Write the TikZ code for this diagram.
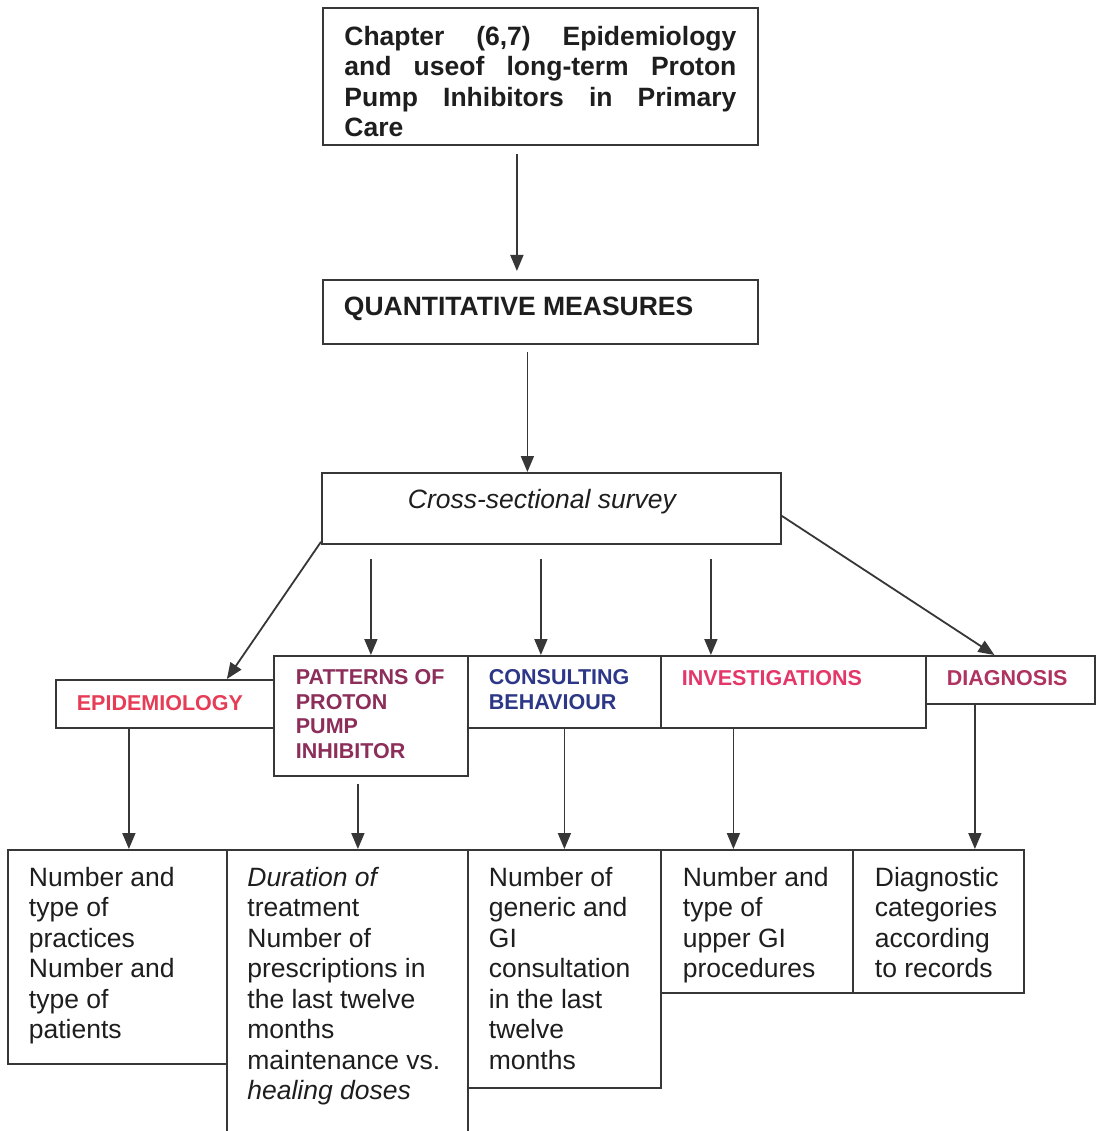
\documentclass[tikz,border=0pt]{standalone}
\usepackage{fontspec}
\setmainfont{Liberation Sans}
\usetikzlibrary{arrows.meta,positioning,calc}

\definecolor{linegray}{RGB}{55,55,55}
\definecolor{inkblack}{RGB}{30,30,30}
\definecolor{epired}{RGB}{230,60,85}
\definecolor{patplum}{RGB}{140,45,90}
\definecolor{consblue}{RGB}{45,55,135}
\definecolor{invpink}{RGB}{228,55,105}
\definecolor{diagrose}{RGB}{175,50,95}

% box content: width, height, left pad, top pad, text
\newcommand{\cellbox}[5]{\hspace*{#3pt}\parbox[t][#2pt][t]{\dimexpr#1pt-#3pt\relax}{\raggedright\vspace*{#4pt}#5}}

\begin{document}
\begin{tikzpicture}[
    x=1pt, y=-1pt,
    cell/.style={draw=linegray, line width=1.8pt, anchor=north west, inner sep=0pt, text=inkblack, font=\fontsize{26.5}{30.5}\selectfont},
    title/.style={cell, font=\fontsize{26.5}{30.5}\selectfont\bfseries},
    head/.style={cell, font=\fontsize{21.5}{24.5}\selectfont\bfseries},
    arr/.style={-{Triangle[width=13pt,length=16pt]}, draw=linegray, line width=1.8pt}
]
    \useasboundingbox (0,0) rectangle (1095,1131);
    \fill[white] (0,0) rectangle (1095,1131);

    % Top of the chain
    \node[title] (chap) at (322,7) {\cellbox{435}{137}{21.5}{18}{%
        \makebox[392pt][s]{Chapter (6,7) Epidemiology}\\
        \makebox[392pt][s]{and useof long-term Proton}\\
        \makebox[392pt][s]{Pump Inhibitors in Primary}\\
        Care}};
    \node[title] (quant) at (322,279) {\cellbox{435}{64}{21}{17}{QUANTITATIVE MEASURES}};
    \node[cell] (survey) at (321,472) {\cellbox{459}{71}{86}{16}{\itshape Cross-sectional survey}};

    % Second row: themes
    \node[head, text=epired] (epi) at (55,679) {\cellbox{218}{48}{21}{16}{EPIDEMIOLOGY}};
    \node[head, text=patplum] (pat) at (273,655) {\cellbox{194}{120}{22}{14}{PATTERNS OF\\ PROTON\\ PUMP\\ INHIBITOR}};
    \node[head, text=consblue] (cons) at (467,655) {\cellbox{193}{72}{21}{14}{CONSULTING\\ BEHAVIOUR}};
    \node[head, text=invpink] (inv) at (660,655) {\cellbox{265}{72}{21}{15}{INVESTIGATIONS}};
    \node[head, text=diagrose] (diag) at (925,655) {\cellbox{169}{48}{21}{15}{DIAGNOSIS}};

    % Bottom row: measures
    \node[cell] (practices) at (7,849) {\cellbox{219}{214}{21}{17}{Number and\\ type of\\ practices\\ Number and\\ type of\\ patients}};
    \node[cell] (duration) at (226,849) {\cellbox{241}{290}{20.5}{17}{{\itshape Duration of}\\ treatment\\ Number of\\ prescriptions in\\ the last twelve\\ months\\ maintenance vs.\\ {\itshape healing doses}}};
    \node[cell] (consult) at (467,849) {\cellbox{193}{238}{21}{17}{Number of\\ generic and\\ GI\\ consultation\\ in the last\\ twelve\\ months}};
    \node[cell] (procs) at (660,849) {\cellbox{192}{143}{22}{17}{Number and\\ type of\\ upper GI\\ procedures}};
    \node[cell] (records) at (852,849) {\cellbox{171}{143}{22}{17}{Diagnostic\\ categories\\ according\\ to records}};

    % Arrows down the chain
    \draw[arr, shorten <=8pt, shorten >=8pt] ([xshift=-23.5]chap.south) -- ([xshift=-23.5]quant.north);
    \draw[arr, shorten <=7pt] ([xshift=-13]quant.south) -- ([xshift=-24]survey.north);

    % Survey to themes
    \draw[arr] ([yshift=3]survey.south west) -- ([xshift=62]epi.north);
    \draw[arr, shorten <=14pt] (survey.south -| pat.north) -- (pat.north);
    \draw[arr, shorten <=14pt] ([xshift=-23.5]cons.north |- survey.south) -- ([xshift=-23.5]cons.north);
    \draw[arr, shorten <=14pt] ([xshift=-82.5]inv.north |- survey.south) -- ([xshift=-82.5]inv.north);
    \draw[arr] ([yshift=-7.5]survey.east) -- ([xshift=-16]diag.north);

    % Themes to measures
    \draw[arr] ([xshift=-36]epi.south) -- ([xshift=-36]epi.south |- practices.north);
    \draw[arr, shorten <=7pt] ([xshift=-13]pat.south) -- ([xshift=-13]pat.south |- duration.north);
    \draw[arr] (cons.south) -- (consult.north);
    \draw[arr] ([xshift=-60]inv.south) -- ([xshift=-60]inv.south |- procs.north);
    \draw[arr] ([xshift=-35.5]diag.south) -- ([xshift=-35.5]diag.south |- records.north);
\end{tikzpicture}
\end{document}
